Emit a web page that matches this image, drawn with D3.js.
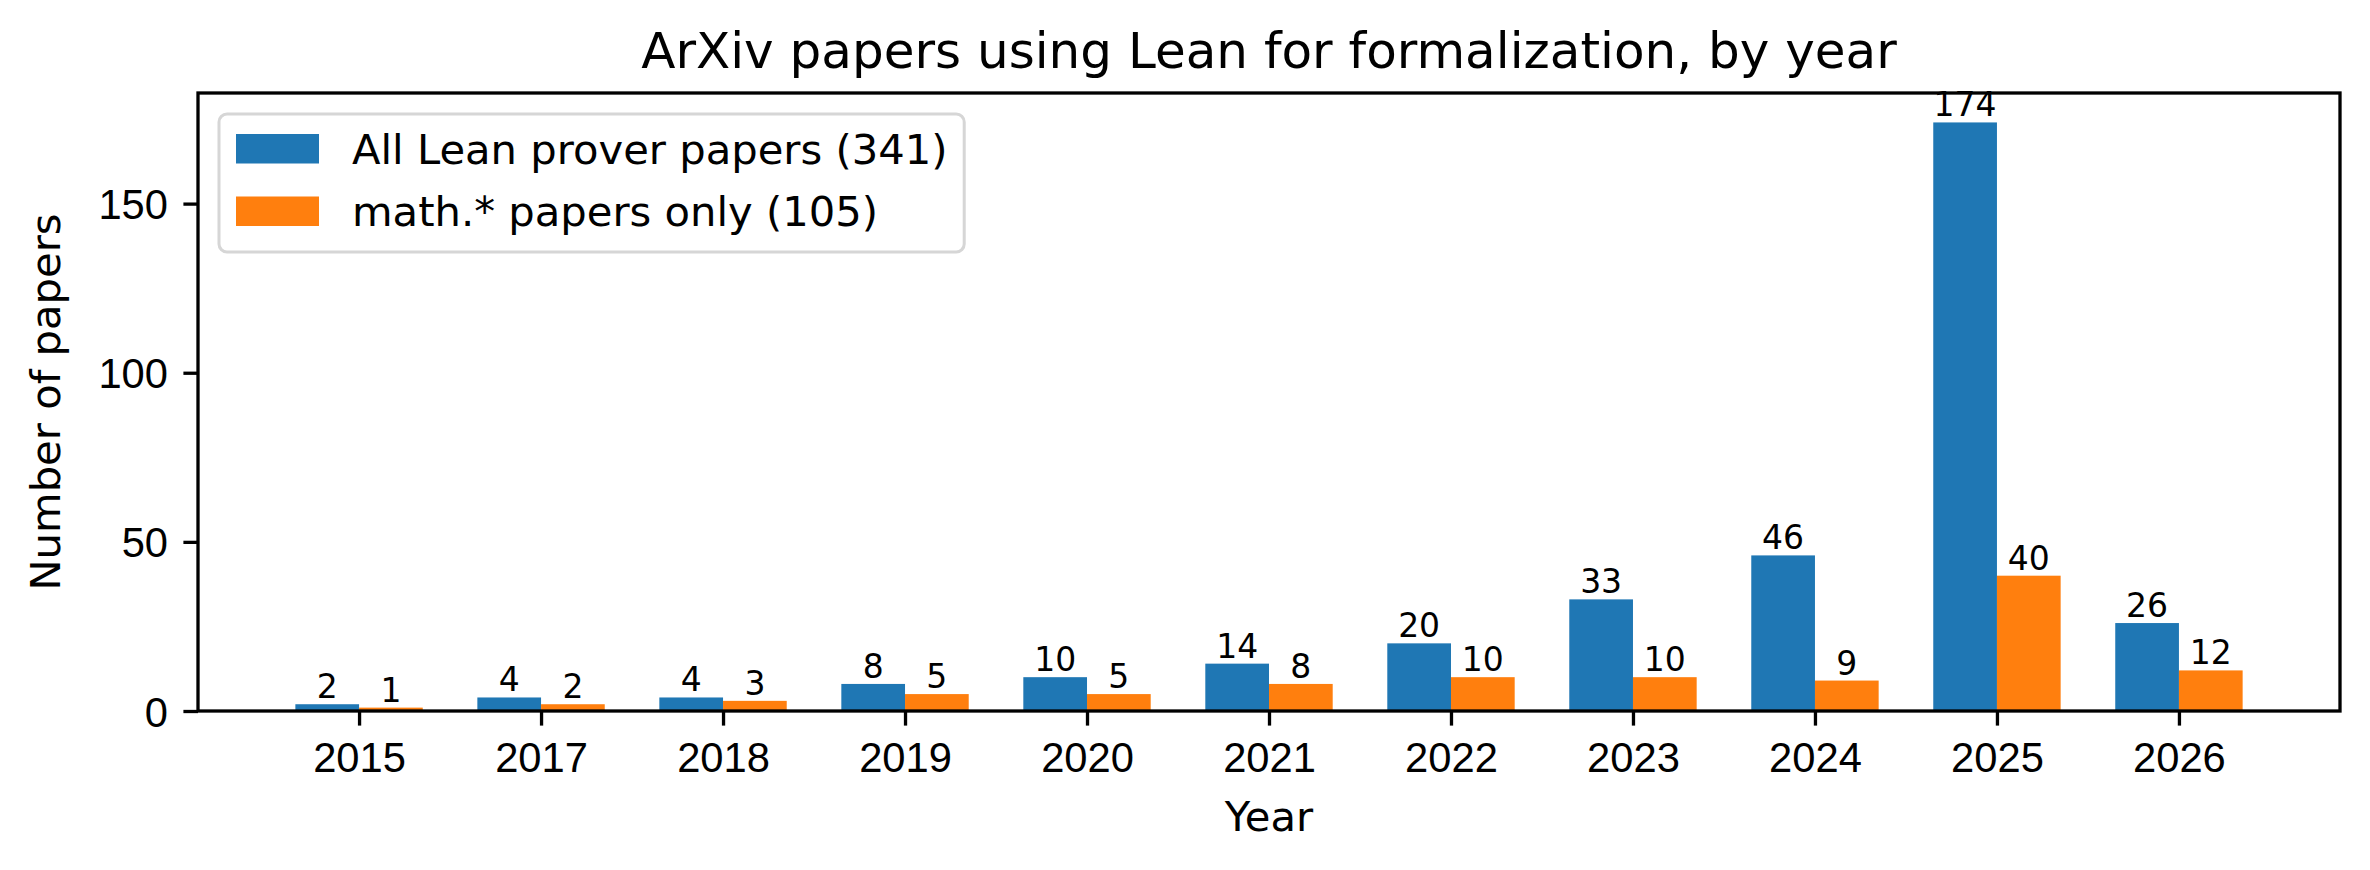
<!DOCTYPE html>
<html lang="en">
<head>
<meta charset="UTF-8">
<title>ArXiv papers using Lean</title>
<script src="https://cdnjs.cloudflare.com/ajax/libs/d3/7.9.0/d3.min.js"></script>
<style>
    body { margin: 0; background: white; }
    svg { display: block; font-family: "DejaVu Sans", sans-serif; }
</style>
</head>
<body>
<svg id="chart" width="2370" height="870"></svg>
<script>
    // data
    const years = ['2015', '2017', '2018', '2019', '2020', '2021', '2022', '2023', '2024', '2025', '2026'];
    const allPapers = [2, 4, 4, 8, 10, 14, 20, 33, 46, 174, 26];
    const mathPapers = [1, 2, 3, 5, 5, 8, 10, 10, 9, 40, 12];
    const yTicks = [0, 50, 100, 150];
    const seriesNames = ['All Lean prover papers (341)', 'math.* papers only (105)'];
    const colors = ['#1f77b4', '#ff7f0e'];

    const svg = d3.select('#chart');
    const plot = { left: 198, right: 2340, top: 93, bottom: 711 };
    const barWidth = 0.35;
    const fs = 41.7;      // 10pt @ 300dpi
    const tickLen = 14.6;

    // matplotlib-ish 5% margins on x
    const lo = -barWidth, hi = years.length - 1 + barWidth;
    const pad = (hi - lo) * 0.05;
    const x = d3.scaleLinear().domain([lo - pad, hi + pad]).range([plot.left, plot.right]);
    const yMax = d3.max(allPapers) * 1.05;
    const y = d3.scaleLinear().domain([0, yMax]).range([plot.bottom, plot.top]);

    const series = [allPapers, mathPapers];
    series.forEach((vals, s) => {
        const offset = s === 0 ? -barWidth : 0;
        const g = svg.append('g');
        g.selectAll('rect').data(vals).enter().append('rect')
            .attr('x', (d, i) => x(i + offset))
            .attr('width', (d, i) => x(i + offset + barWidth) - x(i + offset))
            .attr('y', d => y(d))
            .attr('height', d => y(0) - y(d))
            .attr('fill', colors[s]);
        // value labels on top of bars
        g.selectAll('text').data(vals).enter().append('text')
            .attr('x', (d, i) => x(i + offset + barWidth / 2))
            .attr('y', d => y(d) - 6)
            .attr('text-anchor', 'middle')
            .attr('font-size', 33)
            .text(d => d);
    });

    // axes
    const xAxis = d3.axisBottom(x)
        .tickValues(d3.range(years.length))
        .tickFormat(i => years[i])
        .tickSize(tickLen);
    const gx = svg.append('g').attr('transform', `translate(0,${plot.bottom})`).call(xAxis);
    gx.select('.domain').remove();
    gx.selectAll('line').attr('stroke-width', 3.3);
    gx.selectAll('text').attr('font-size', fs).attr('y', 61).attr('dy', 0).attr('fill', 'black');

    const yAxis = d3.axisLeft(y).tickValues(yTicks).tickSize(tickLen).tickPadding(15.4);
    const gy = svg.append('g').attr('transform', `translate(${plot.left},0)`).call(yAxis);
    gy.select('.domain').remove();
    gy.selectAll('line').attr('stroke-width', 3.3);
    gy.selectAll('text').attr('font-size', fs).attr('dy', '0.36em').attr('fill', 'black');

    // frame
    svg.append('rect')
        .attr('x', plot.left).attr('y', plot.top)
        .attr('width', plot.right - plot.left).attr('height', plot.bottom - plot.top)
        .attr('fill', 'none').attr('stroke', 'black').attr('stroke-width', 3.3);

    // titles
    svg.append('text').attr('x', (plot.left + plot.right) / 2).attr('y', 68)
        .attr('text-anchor', 'middle').attr('font-size', 50)
        .text('ArXiv papers using Lean for formalization, by year');
    svg.append('text').attr('x', (plot.left + plot.right) / 2).attr('y', 831)
        .attr('text-anchor', 'middle').attr('font-size', fs).text('Year');
    svg.append('text')
        .attr('transform', `translate(60,${(plot.top + plot.bottom) / 2}) rotate(-90)`)
        .attr('text-anchor', 'middle').attr('font-size', fs).text('Number of papers');

    // legend, upper left
    const legend = svg.append('g');
    const box = legend.append('rect')
        .attr('x', 219).attr('y', 114).attr('height', 138).attr('rx', 8)
        .attr('fill', 'white').attr('fill-opacity', 0.8)
        .attr('stroke', '#d6d6d6').attr('stroke-width', 3);
    let maxText = 0;
    seriesNames.forEach((name, i) => {
        legend.append('rect')
            .attr('x', 236).attr('y', 134 + i * 62.5)
            .attr('width', 83).attr('height', 29.5)
            .attr('fill', colors[i]);
        const t = legend.append('text')
            .attr('x', 352).attr('y', 164 + i * 62)
            .attr('font-size', fs).text(name);
        maxText = Math.max(maxText, t.node().getComputedTextLength());
    });
    box.attr('width', 352 + maxText + 16.7 - 219);
</script>
</body>
</html>
